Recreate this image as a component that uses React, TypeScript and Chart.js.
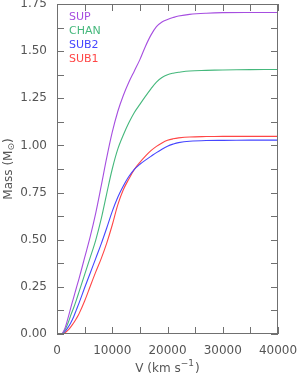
import React, { useEffect, useRef } from "react";
import { Chart, registerables } from "chart.js";

Chart.register(...registerables);

// ---- data ----
const velocity = [0, 800, 1000, 1500, 2000, 2500, 3000, 3500, 4000, 5000, 6000, 7000, 8000, 9000, 10000, 11000, 12000, 13000, 14000, 15000, 16000, 17000, 18000, 19000, 20000, 21000, 22000, 24000, 27000, 30000, 35000, 40000];

const supMass = [0, 0, 0.004, 0.035, 0.085, 0.14, 0.192, 0.244, 0.295, 0.405, 0.515, 0.64, 0.785, 0.935, 1.07, 1.18, 1.265, 1.335, 1.395, 1.455, 1.525, 1.585, 1.63, 1.655, 1.668, 1.678, 1.686, 1.695, 1.701, 1.704, 1.705, 1.705];
const chanMass = [0, 0, 0.003, 0.025, 0.058, 0.1, 0.138, 0.18, 0.225, 0.315, 0.405, 0.497, 0.61, 0.745, 0.875, 0.98, 1.055, 1.12, 1.175, 1.218, 1.26, 1.3, 1.336, 1.36, 1.375, 1.383, 1.388, 1.395, 1.398, 1.4, 1.402, 1.403];
const sub2Mass = [0, 0, 0.002, 0.015, 0.035, 0.06, 0.09, 0.128, 0.165, 0.245, 0.322, 0.4, 0.478, 0.562, 0.65, 0.725, 0.785, 0.835, 0.873, 0.9, 0.922, 0.942, 0.962, 0.98, 0.996, 1.007, 1.015, 1.022, 1.026, 1.027, 1.028, 1.028];
const sub1Mass = [0, 0, 0, 0.008, 0.02, 0.038, 0.058, 0.082, 0.108, 0.175, 0.252, 0.328, 0.4, 0.482, 0.578, 0.685, 0.765, 0.822, 0.873, 0.91, 0.943, 0.972, 0.995, 1.013, 1.027, 1.035, 1.04, 1.045, 1.047, 1.048, 1.048, 1.048];

const seriesNames = ["SUP", "CHAN", "SUB2", "SUB1"];
const seriesColors = ["#a64ee0", "#45b87c", "#4646ff", "#ff4646"];

const xTickLabels = [0, 10000, 20000, 30000, 40000];
const xTickMarks = [0, 5000, 10000, 15000, 20000, 25000, 30000, 35000, 40000];
const yTickLabels = [0, 0.25, 0.5, 0.75, 1.0, 1.25, 1.5, 1.75];
const yTickMarks = [0, 0.125, 0.25, 0.375, 0.5, 0.625, 0.75, 0.875, 1.0, 1.125, 1.25, 1.375, 1.5, 1.625, 1.75];

const FONT = '"DejaVu Sans", sans-serif';
const TEXT = "#555555";
const AXIS = "#707070";

const framePlugin = {
  id: "frame",
  afterDraw(chart: any) {
    const { ctx, chartArea, scales } = chart;
    const { left, right, top, bottom } = chartArea;
    const x = scales.x;
    const y = scales.y;
    ctx.save();
    ctx.strokeStyle = AXIS;
    ctx.lineWidth = 1;
    ctx.strokeRect(left + 0.5, top + 0.5, right - left - 1, bottom - top - 1);
    const tl = 7;
    ctx.beginPath();
    xTickMarks.forEach((v) => {
      const px = Math.round(x.getPixelForValue(v)) + 0.5;
      ctx.moveTo(px, bottom);
      ctx.lineTo(px, bottom - tl);
      ctx.moveTo(px, top);
      ctx.lineTo(px, top + tl);
    });
    yTickMarks.forEach((v) => {
      const py = Math.round(y.getPixelForValue(v)) + 0.5;
      ctx.moveTo(left, py);
      ctx.lineTo(left + tl, py);
      ctx.moveTo(right, py);
      ctx.lineTo(right - tl, py);
    });
    ctx.stroke();

    // legend
    ctx.font = `11px ${FONT}`;
    ctx.textBaseline = "middle";
    ctx.textAlign = "left";
    seriesNames.forEach((n, i) => {
      ctx.fillStyle = seriesColors[i];
      ctx.fillText(n, left + 12, top + 13 + i * 14);
    });

    // x title
    ctx.fillStyle = TEXT;
    ctx.textBaseline = "alphabetic";
    const a = "V (km s";
    const s = "\u22121";
    const b = ")";
    ctx.font = `12px ${FONT}`;
    const wa = ctx.measureText(a).width;
    const wb = ctx.measureText(b).width;
    ctx.font = `9px ${FONT}`;
    const ws = ctx.measureText(s).width;
    const cx = (left + right) / 2;
    let sx = cx - (wa + ws + wb + 1) / 2;
    const by = 372;
    ctx.font = `12px ${FONT}`;
    ctx.fillText(a, sx, by);
    sx += wa;
    ctx.font = `9px ${FONT}`;
    ctx.fillText(s, sx, by - 6);
    sx += ws + 1;
    ctx.font = `12px ${FONT}`;
    ctx.fillText(b, sx, by);

    // y title (rotated)
    const ya = "Mass (M";
    const ysub = "\u2299";
    const yb = ")";
    ctx.font = `12px ${FONT}`;
    const wya = ctx.measureText(ya).width;
    const wyb = ctx.measureText(yb).width;
    ctx.font = `9px ${FONT}`;
    const wys = ctx.measureText(ysub).width;
    const total = wya + wys + wyb;
    ctx.translate(12, (top + bottom) / 2);
    ctx.rotate(-Math.PI / 2);
    let rx = -total / 2;
    ctx.font = `12px ${FONT}`;
    ctx.fillText(ya, rx, 0);
    rx += wya;
    ctx.font = `9px ${FONT}`;
    ctx.fillText(ysub, rx, 2);
    rx += wys;
    ctx.font = `12px ${FONT}`;
    ctx.fillText(yb, rx, 0);
    ctx.restore();
  },
};

export default function App() {
  const ref = useRef<HTMLCanvasElement>(null);
  useEffect(() => {
    if (!ref.current) return;
    const series = [supMass, chanMass, sub2Mass, sub1Mass];
    const chart = new Chart(ref.current, {
      type: "line",
      data: {
        datasets: series.map((vals, i) => ({
          label: seriesNames[i],
          data: velocity.map((v, j) => ({ x: v, y: vals[j] })),
          borderColor: seriesColors[i],
          borderWidth: 1.1,
          pointRadius: 0,
          fill: false,
          tension: 0.35,
        })),
      },
      options: {
        responsive: false,
        animation: false,
        events: [],
        layout: { padding: { left: 0, top: 4, right: 19, bottom: 0 } },
        plugins: { legend: { display: false }, tooltip: { enabled: false } },
        scales: {
          x: {
            type: "linear",
            min: 0,
            max: 40000,
            border: { display: false },
            grid: { display: false, drawTicks: false },
            afterBuildTicks: (scale: any) => {
              scale.ticks = xTickLabels.map((v) => ({ value: v }));
            },
            ticks: {
              padding: 10,
              color: TEXT,
              font: { family: FONT, size: 12 },
              maxRotation: 0,
              autoSkip: false,
              callback: (v: any) => String(v),
            },
            afterFit: (scale: any) => {
              scale.height = 44;
              scale.paddingLeft = 0;
              scale.paddingRight = 0;
            },
          },
          y: {
            type: "linear",
            min: 0,
            max: 1.75,
            border: { display: false },
            grid: { display: false, drawTicks: false },
            afterBuildTicks: (scale: any) => {
              scale.ticks = yTickLabels.map((v) => ({ value: v }));
            },
            ticks: {
              padding: 10,
              color: TEXT,
              font: { family: FONT, size: 12 },
              autoSkip: false,
              callback: (v: any) => Number(v).toFixed(2),
            },
            afterFit: (scale: any) => {
              scale.width = 57;
              scale.paddingTop = 0;
              scale.paddingBottom = 0;
            },
          },
        },
      },
      plugins: [framePlugin],
    });
    return () => chart.destroy();
  }, []);
  return (
    <div style={{ position: "fixed", left: 0, top: 0, width: 297, height: 378, background: "#fff" }}>
      <canvas ref={ref} width={297} height={378} />
    </div>
  );
}
